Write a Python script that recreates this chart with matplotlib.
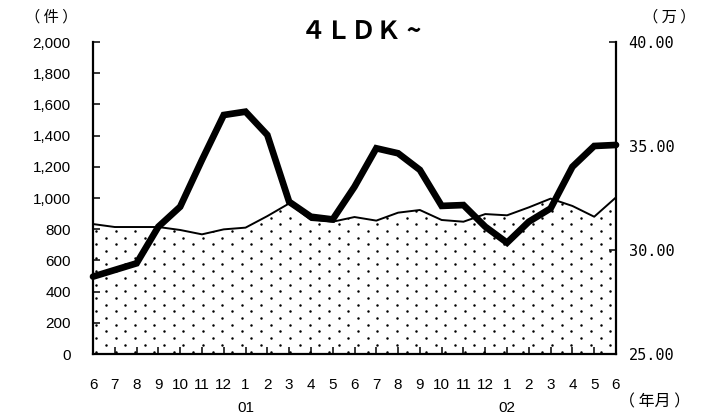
import numpy as np
import matplotlib
matplotlib.use("Agg")
import matplotlib.pyplot as plt

plt.rcParams['font.family'] = ['Liberation Sans', 'Noto Sans CJK JP', 'DejaVu Sans']

# 6/2000 .. 6/2002
months = ["6", "7", "8", "9", "10", "11", "12",
          "1", "2", "3", "4", "5", "6", "7", "8", "9", "10", "11", "12",
          "1", "2", "3", "4", "5", "6"]
year_labels = {7: "01", 19: "02"}

# 件数 (left axis, area)
counts = [833, 814, 814, 814, 795, 767, 799, 810, 884, 965, 859, 848, 878,
          855, 906, 923, 859, 848, 897, 889, 940, 996, 949, 880, 1004]

# 価格 万円 (right axis, thick line)
prices = [28.72, 29.04, 29.36, 31.12, 32.08, 34.33, 36.49, 36.65, 35.53,
          32.32, 31.60, 31.47, 33.04, 34.89, 34.65, 33.85, 32.12, 32.16,
          31.12, 30.35, 31.36, 32.00, 34.00, 35.00, 35.05]

left_ticks = np.arange(0, 2001, 200)
right_ticks = [25, 30, 35, 40]

x = np.arange(len(months))

fig = plt.figure(figsize=(7.05, 4.15), dpi=100)
ax = fig.add_axes([93 / 705, 1 - 354 / 415, (616 - 93) / 705, (354 - 42) / 415])
ax2 = ax.twinx()

# dotted area
poly = ax.fill_between(x, 0, counts, facecolor="white", edgecolor="none", zorder=1)
ax.plot(x, counts, color="black", lw=1.4, zorder=3)

# dot texture (style only), clipped to the area
sx, sy = 9.7 / 523, 6.7 / 312
rows = np.arange(0, 1 / sy + 1)
dots_x, dots_y = [], []
for j in rows:
    cols = np.arange((j % 2) * sx + 0.006, 1.0, 2 * sx)
    dots_x.extend(cols)
    dots_y.extend([j * sy + 0.008] * len(cols))
dots = ax.scatter(dots_x, dots_y, s=3.2, color="black", lw=0,
                  transform=ax.transAxes, zorder=2)
dots.set_clip_path(poly.get_paths()[0], ax.transData)

ax2.plot(x, prices, color="black", lw=4.8, solid_capstyle="round",
         solid_joinstyle="miter", clip_on=False, zorder=4)

ax.set_xlim(0, 24)
ax.set_ylim(0, 2000)
ax2.set_ylim(25, 40)

ax.set_yticks(left_ticks)
ax.set_yticklabels([f"{v:,}" for v in left_ticks], fontsize=11)
ax2.set_yticks(right_ticks)
ax2.set_yticklabels([f"{v:.2f}" for v in right_ticks], fontsize=11,
                    family="DejaVu Sans Mono")
ax.set_xticks(x)
ax.set_xticklabels(months, fontsize=11)

ax.tick_params(axis="y", direction="in", length=5, width=1.1, pad=16)
ax.tick_params(axis="x", direction="in", length=5, width=1.1, pad=17)
ax2.tick_params(axis="y", direction="in", length=5, width=1.1, pad=9)

for a in (ax, ax2):
    a.spines["top"].set_visible(False)
    for s in ("left", "right", "bottom"):
        a.spines[s].set_linewidth(1.6)
ax2.spines["left"].set_visible(False)
ax2.spines["bottom"].set_visible(False)
ax.spines["right"].set_visible(False)
ax.set_zorder(ax2.get_zorder() - 1)
ax2.patch.set_visible(False)

for i, lab in year_labels.items():
    fig.text((93 + i * 523 / 24) / 705, 1 - 408 / 415, lab, fontsize=11,
             ha="center", va="center")

fig.text(361 / 705, 1 - 32 / 415, "４ＬＤＫ ~", fontsize=18, ha="center",
         va="center", fontweight="bold", family=["Noto Sans CJK JP"])
cjk = dict(ha="center", va="center", family=["Noto Sans CJK JP"])
fig.text(51 / 705, 1 - 17 / 415, "（ 件 ）", fontsize=11, **cjk)
fig.text(669 / 705, 1 - 17 / 415, "（ 万 ）", fontsize=11, **cjk)
fig.text(655 / 705, 1 - 402 / 415, "（ 年月 ）", fontsize=11.5, **cjk)

fig.savefig("out.png", dpi=100)
